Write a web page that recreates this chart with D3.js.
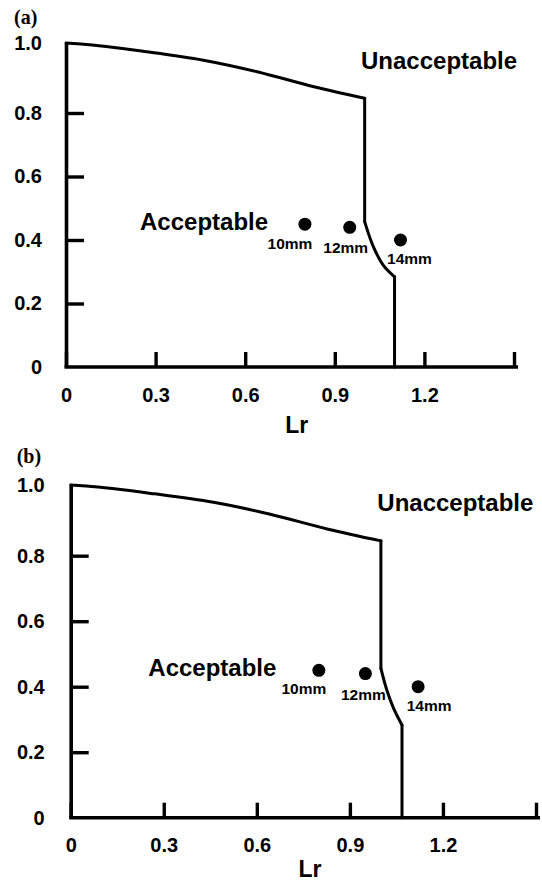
<!DOCTYPE html>
<html>
<head>
<meta charset="utf-8">
<script src="https://cdn.jsdelivr.net/npm/d3@7"></script>
<style>
  html, body { margin: 0; padding: 0; background: #fff; }
  svg { display: block; }
  text { font-family: "Liberation Sans", Arial, sans-serif; font-weight: bold; fill: #000; }
</style>
</head>
<body>
<svg id="chart" width="542" height="889"></svg>
<script>
// Failure assessment diagram: Kr against Lr, two cases (a) and (b)

// Shared upper envelope of the assessment line (Lr, Kr)
const envelopeLr = [0, 0.05, 0.27, 0.46, 0.64, 0.83, 1.0];
const envelopeKr = [1.0, 0.997, 0.975, 0.951, 0.918, 0.875, 0.842];

// Lower cut-off branch of each case, from Lr = 1.0 down to the Lr axis
const cutoffLrA = [1.0, 1.0, 1.029, 1.062, 1.10, 1.10];
const cutoffKrA = [0.842, 0.458, 0.379, 0.321, 0.284, 0];
const cutoffLrB = [1.0, 1.0, 1.019, 1.041, 1.068, 1.068];
const cutoffKrB = [0.842, 0.456, 0.39, 0.334, 0.283, 0];

// Assessed defect sizes
const defectNames = ["10mm", "12mm", "14mm"];
const defectLr = [0.80, 0.95, 1.12];
const defectKr = [0.45, 0.44, 0.40];

// Axis ticks
const lrTicks = [0, 0.3, 0.6, 0.9, 1.2, 1.5];
const krTicks = [0, 0.2, 0.4, 0.6, 0.8, 1.0];

// Panel layout (pixel placement of each diagram)
const panels = [
  { tag: "(a)", tagPos: [14, 24], cutLr: cutoffLrA, cutKr: cutoffKrA,
    xRange: [66, 514], yRange: [367, 113, 43], yPad: 24,
    accept: [140, 230], unaccept: [361, 69], title: [296.7, 433.3],
    labelOff: [[-15, 25], [-4, 26], [9, 24]] },
  { tag: "(b)", tagPos: [16.7, 463], cutLr: cutoffLrB, cutKr: cutoffKrB,
    xRange: [70.7, 536], yRange: [817.7, 555.7, 485], yPad: 26,
    accept: [148.3, 676], unaccept: [377.3, 510.7], title: [310, 876.7],
    labelOff: [[-15, 24], [-2, 26], [11, 24]] }
];

const svg = d3.select("#chart");

const fmt = v => v === 0 ? "0" : d3.format(".1f")(v);

panels.forEach(p => {
  const g = svg.append("g");

  const x = d3.scaleLinear().domain([0, 1.5]).range(p.xRange);
  const y = d3.scaleLinear().domain([0, 0.8, 1.0]).range(p.yRange);

  // Lr axis, ticks pointing inward
  const xAxis = d3.axisBottom(x)
    .tickValues(lrTicks)
    .tickSizeInner(-15).tickSizeOuter(0)
    .tickPadding(20.5)
    .tickFormat(v => v === 1.5 ? "" : fmt(v));
  const gx = g.append("g")
    .attr("transform", `translate(0,${y(0)})`)
    .call(xAxis);
  gx.select(".domain").attr("d", `M${x(0) - 1.5},0H${x(1.5) + 4}`);

  // Kr axis, ticks pointing inward
  const yAxis = d3.axisLeft(y)
    .tickValues(krTicks)
    .tickSizeInner(-18).tickSizeOuter(0)
    .tickPadding(p.yPad)
    .tickFormat(fmt);
  const gy = g.append("g")
    .attr("transform", `translate(${x(0)},0)`)
    .call(yAxis);

  [gx, gy].forEach(a => {
    a.select(".domain").attr("stroke", "#000").attr("stroke-width", 3.6);
    a.selectAll(".tick line").attr("stroke", "#000").attr("stroke-width", 3.4);
    a.selectAll(".tick text")
      .attr("font-family", "'Liberation Sans', Arial, sans-serif")
      .attr("font-weight", "bold")
      .attr("font-size", 20)
      .attr("fill", "#000");
  });
  gy.selectAll(".tick").filter(d => d === 0 || d === 1.0).select("line").remove();

  // Assessment line: smooth envelope, vertical drop, curved branch, vertical cut-off
  const env = envelopeLr.map((v, i) => [v, envelopeKr[i]]);
  const cut = p.cutLr.map((v, i) => [v, p.cutKr[i]]);

  const smoothX = d3.line().x(d => x(d[0])).y(d => y(d[1])).curve(d3.curveMonotoneX);
  const straight = d3.line().x(d => x(d[0])).y(d => y(d[1]));
  const arc = d3.line().x(d => x(d[0])).y(d => y(d[1])).curve(d3.curveCatmullRom.alpha(0.5));

  const lineStyle = s => s.attr("fill", "none").attr("stroke", "#000")
    .attr("stroke-width", 3).attr("stroke-linejoin", "round").attr("stroke-linecap", "round");

  g.append("path").datum(env).attr("d", smoothX).call(lineStyle);
  g.append("path").datum(cut.slice(0, 2)).attr("d", straight).call(lineStyle);
  g.append("path").datum(cut.slice(1, 5)).attr("d", arc).call(lineStyle);
  g.append("path").datum(cut.slice(4)).attr("d", straight).call(lineStyle);

  // Defect points and their labels
  const pts = defectNames.map((n, i) => ({ name: n, lr: defectLr[i], kr: defectKr[i], off: p.labelOff[i] }));
  g.selectAll("circle.pt").data(pts).join("circle")
    .attr("class", "pt")
    .attr("cx", d => x(d.lr)).attr("cy", d => y(d.kr))
    .attr("r", 6.5).attr("fill", "#000");
  g.selectAll("text.pt").data(pts).join("text")
    .attr("class", "pt")
    .attr("x", d => x(d.lr) + d.off[0]).attr("y", d => y(d.kr) + d.off[1])
    .attr("text-anchor", "middle").attr("font-size", 15.5)
    .text(d => d.name);

  // Region labels
  g.append("text").attr("x", p.accept[0]).attr("y", p.accept[1])
    .attr("font-size", 24).text("Acceptable");
  g.append("text").attr("x", p.unaccept[0]).attr("y", p.unaccept[1])
    .attr("font-size", 24).text("Unacceptable");

  // Axis title and panel tag
  g.append("text").attr("x", p.title[0]).attr("y", p.title[1])
    .attr("text-anchor", "middle").attr("font-size", 23).text("Lr");
  g.append("text").attr("x", p.tagPos[0]).attr("y", p.tagPos[1])
    .style("font-family", "'Liberation Serif', 'Times New Roman', serif")
    .attr("font-size", 20).text(p.tag);
});
</script>
</body>
</html>
